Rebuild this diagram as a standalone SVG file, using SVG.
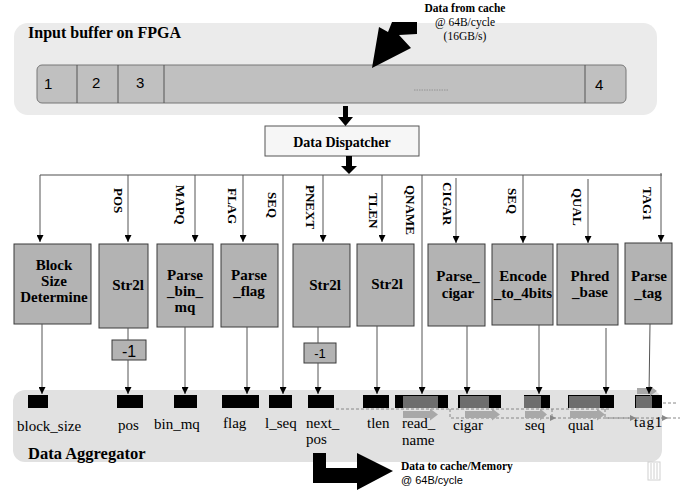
<svg xmlns="http://www.w3.org/2000/svg" width="689" height="491" viewBox="0 0 689 491">
<defs>
<marker id="ah" viewBox="0 0 8 8" refX="8" refY="4" markerWidth="7" markerHeight="7" markerUnits="userSpaceOnUse" orient="auto">
<path d="M0,0 L8,4 L0,8 Z" fill="#000"/>
</marker>
<marker id="ahg" viewBox="0 0 8 8" refX="8" refY="4" markerWidth="6" markerHeight="6" markerUnits="userSpaceOnUse" orient="auto">
<path d="M0,0 L8,4 L0,8 Z" fill="#888"/>
</marker>
</defs>
<style>
.panel{fill:#ebebeb;stroke:none}
.agg{fill:#e1e1e1;stroke:none}
.bar{fill:#c0c0c0;stroke:#777;stroke-width:1}
.box{fill:#b3b3b3;stroke:#3a3a3a;stroke-width:1}
.m1{fill:#b3b3b3;stroke:#3a3a3a;stroke-width:1}
.t{font-family:"Liberation Serif","Times New Roman",serif;fill:#000}
.b{font-weight:bold}
.bt{font-family:"Liberation Serif","Times New Roman",serif;font-weight:bold;font-size:15px;text-anchor:middle;fill:#000}
.vt{font-family:"Liberation Serif","Times New Roman",serif;font-weight:bold;font-size:13px;fill:#000}
.lab{font-family:"Liberation Serif","Times New Roman",serif;font-size:15px;fill:#000}
.a{font-family:"Liberation Sans",Arial,sans-serif;fill:#000}
.ln{stroke:#555;stroke-width:1;fill:none}
.lnd{stroke:#555;stroke-width:1;fill:none;marker-end:url(#ah)}
.reg{fill:#000}
.inner{fill:#6e6e6e}
.garr{fill:#a8a8a8}
.dash{stroke:#888;stroke-width:1;stroke-dasharray:3,2;fill:none}
</style>

<!-- Input buffer -->
<g id="input-buffer">
<rect class="panel" x="14" y="23" width="643" height="92" rx="14"/>
<text class="t b" x="28" y="38" font-size="16">Input buffer on FPGA</text>
<rect class="bar" x="37" y="65" width="589" height="38" rx="5"/>
<line x1="77" y1="65" x2="77" y2="103" stroke="#555"/>
<line x1="118" y1="65" x2="118" y2="103" stroke="#555"/>
<line x1="164" y1="65" x2="164" y2="103" stroke="#555"/>
<line x1="585" y1="65" x2="585" y2="103" stroke="#555"/>
<text class="a" x="44" y="89" font-size="15">1</text>
<text class="a" x="92" y="88" font-size="15">2</text>
<text class="a" x="136" y="88" font-size="15">3</text>
<text class="a" x="595" y="90" font-size="15">4</text>
<line x1="414" y1="90" x2="448" y2="90" stroke="#888" stroke-width="0.8" stroke-dasharray="1.5,1"/>
</g>

<g id="data-from-cache">
<polygon points="417,22 417,34 399,35 411,48 372,68 379,27 388,32 392,22" fill="#000"/>
<text class="t b" x="465" y="12" font-size="11.5" text-anchor="middle">Data from cache</text>
<text class="t" x="465" y="26" font-size="11.5" text-anchor="middle">@ 64B/cycle</text>
<text class="t" x="465" y="40" font-size="11.5" text-anchor="middle">(16GB/s)</text>
</g>

<!-- Dispatcher -->
<g id="data-dispatcher">
<rect x="265" y="126" width="154" height="30" fill="#f6f6f6" stroke="#555"/>
<text class="t b" x="342" y="147" font-size="14" text-anchor="middle">Data Dispatcher</text>
</g>

<!-- Nodes -->
<g id="block-size">
<rect class="box" x="14" y="244" width="77" height="80"/>
<text class="bt" x="54" y="270">Block</text>
<text class="bt" x="54" y="286">Size</text>
<text class="bt" x="54" y="302">Determine</text>
</g>
<g id="str2l-pos">
<rect class="box" x="99" y="244" width="49" height="84"/>
<text class="bt" x="128" y="290">Str2l</text>
</g>
<g id="minus1-pos">
<rect class="m1" x="112" y="340" width="34" height="20"/>
<text class="a" x="129" y="357" font-size="16" text-anchor="middle">-1</text>
</g>
<g id="parse-bin-mq">
<rect class="box" x="157" y="244" width="56" height="83"/>
<text class="bt" x="185" y="280">Parse</text>
<text class="bt" x="185" y="296">_bin_</text>
<text class="bt" x="185" y="312">mq</text>
</g>
<g id="parse-flag">
<rect class="box" x="221" y="244" width="57" height="83"/>
<text class="bt" x="249" y="280">Parse</text>
<text class="bt" x="249" y="296">_flag</text>
</g>
<g id="str2l-pnext">
<rect class="box" x="293" y="244" width="57" height="83"/>
<text class="bt" x="325" y="290">Str2l</text>
</g>
<g id="minus1-pnext">
<rect class="m1" x="304" y="343" width="32" height="20"/>
<text class="a" x="320" y="358" font-size="13" text-anchor="middle">-1</text>
</g>
<g id="str2l-tlen">
<rect class="box" x="357" y="244" width="57" height="82"/>
<text class="bt" x="387" y="289">Str2l</text>
</g>
<g id="parse-cigar">
<rect class="box" x="428" y="244" width="57" height="82"/>
<text class="bt" x="458" y="281">Parse_</text>
<text class="bt" x="458" y="298">cigar</text>
</g>
<g id="encode">
<rect class="box" x="492" y="244" width="61" height="81"/>
<text class="bt" x="523" y="281">Encode</text>
<text class="bt" x="523" y="298">_to_4bits</text>
</g>
<g id="phred">
<rect class="box" x="557" y="244" width="61" height="81"/>
<text class="bt" x="590" y="281">Phred</text>
<text class="bt" x="590" y="297">_base</text>
</g>
<g id="parse-tag">
<rect class="box" x="625" y="243" width="47" height="81"/>
<text class="bt" x="649" y="281">Parse</text>
<text class="bt" x="648" y="298">_tag</text>
</g>

<!-- Aggregator -->
<g id="data-aggregator">
<rect class="agg" x="13" y="390" width="649" height="72" rx="12"/>
<line class="dash" x1="336" y1="409" x2="610" y2="409"/>
<polyline class="dash" points="450,409 450,418 556,418" marker-end="url(#ahg)"/>
<polyline class="dash" points="552,409 552,418 636,418" marker-end="url(#ahg)"/>
<polyline class="dash" points="605,409 605,418 668,418" marker-end="url(#ahg)"/>
<line class="dash" x1="668" y1="418" x2="680" y2="418"/>
<line class="dash" x1="663" y1="403" x2="678" y2="403"/>
<rect class="reg" x="28" y="395" width="20" height="13"/>
<rect class="reg" x="117" y="395" width="26" height="13"/>
<rect class="reg" x="174" y="395" width="23" height="13"/>
<rect class="reg" x="222" y="395" width="37" height="13"/>
<rect class="reg" x="269" y="395" width="23" height="13"/>
<rect class="reg" x="308" y="395" width="26" height="13"/>
<rect class="reg" x="363" y="395" width="26" height="13"/>
<rect class="reg" x="395" y="395" width="53" height="13"/>
<rect class="inner" x="403" y="396" width="35" height="12"/>
<rect class="reg" x="458" y="395" width="43" height="13"/>
<rect class="inner" x="460" y="396" width="29" height="12"/>
<rect class="reg" x="524" y="395" width="26" height="13"/>
<rect class="inner" x="524" y="396" width="17" height="12"/>
<rect class="reg" x="568" y="395" width="46" height="13"/>
<rect class="inner" x="569" y="396" width="31" height="12"/>
<rect class="reg" x="635" y="395" width="27" height="13"/>
<rect class="inner" x="636" y="396" width="16" height="12"/>
<path class="garr" d="M403,411 L430,411 L430,408.5 L438,414.5 L430,420.5 L430,418 L403,418 Z"/>
<path class="garr" d="M465,411 L492,411 L492,408.5 L500,414.5 L492,420.5 L492,418 L465,418 Z"/>
<path class="garr" d="M525,411 L540,411 L540,408.5 L547,414.5 L540,420.5 L540,418 L525,418 Z"/>
<path class="garr" d="M570,411 L597,411 L597,408.5 L605,414.5 L597,420.5 L597,418 L570,418 Z"/>
<path class="garr" d="M637,388 L650,388 L650,386 L657,391 L650,396 L650,394 L637,394 Z"/>
<text class="lab" x="17" y="431">block_size</text>
<text class="lab" x="118" y="430">pos</text>
<text class="lab" x="154" y="429">bin_mq</text>
<text class="lab" x="223" y="428">flag</text>
<text class="lab" x="265" y="428">l_seq</text>
<text class="lab" x="306" y="428">next_</text>
<text class="lab" x="306" y="444">pos</text>
<text class="lab" x="367" y="428">tlen</text>
<text class="lab" x="402" y="428">read_</text>
<text class="lab" x="402" y="445">name</text>
<text class="lab" x="453" y="430">cigar</text>
<text class="lab" x="525" y="430">seq</text>
<text class="lab" x="568" y="430">qual</text>
<text class="lab" x="634" y="427" letter-spacing="0.8">tag1</text>
<text class="t b" x="28" y="459" font-size="16.5">Data Aggregator</text>
<g stroke="#d0d0d0" stroke-width="1">
<rect x="648" y="462" width="12" height="18" fill="none"/>
<line x1="651" y1="463" x2="651" y2="479"/>
<line x1="654" y1="463" x2="654" y2="479"/>
<line x1="657" y1="463" x2="657" y2="479"/>
</g>
</g>

<g id="data-to-cache">
<path d="M313,453 L326,453 L326,468 L357,468 L357,453 L393,471 L357,490 L357,483 L313,483 Z" fill="#000"/>
<text class="t b" x="401" y="470" font-size="11.5">Data to cache/Memory</text>
<text class="a" x="401" y="484" font-size="11">@ 64B/cycle</text>
</g>

<!-- Connectors -->
<g id="connectors">
<path d="M343,106 L348,106 L348,117 L353,117 L345.5,126 L338,117 L343,117 Z" fill="#000"/>
<path d="M346,156 L352,156 L352,166 L357,166 L349,174 L341,166 L346,166 Z" fill="#000"/>
<line x1="40" y1="175" x2="662" y2="175" stroke="#888" stroke-width="1.6"/>
<line class="lnd" x1="40" y1="175" x2="40" y2="242"/>
<line class="lnd" x1="128" y1="175" x2="128" y2="242"/>
<line class="lnd" x1="195" y1="175" x2="195" y2="242"/>
<line class="lnd" x1="243" y1="175" x2="243" y2="242"/>
<line class="lnd" x1="283" y1="175" x2="283" y2="394"/>
<line class="lnd" x1="323" y1="175" x2="323" y2="242"/>
<line class="lnd" x1="382" y1="175" x2="382" y2="242"/>
<line class="lnd" x1="422" y1="175" x2="422" y2="394"/>
<line class="lnd" x1="456" y1="178" x2="456" y2="243"/>
<line class="lnd" x1="523" y1="175" x2="523" y2="243"/>
<line class="lnd" x1="588" y1="179" x2="588" y2="243"/>
<line class="lnd" x1="661" y1="173" x2="661" y2="242"/>

<line class="lnd" x1="42" y1="324" x2="42" y2="394"/>
<line class="ln" x1="128" y1="328" x2="128" y2="340"/>
<line class="lnd" x1="128" y1="360" x2="128" y2="394"/>
<line class="lnd" x1="185" y1="327" x2="185" y2="394"/>
<line class="lnd" x1="247" y1="327" x2="247" y2="394"/>
<line class="ln" x1="318" y1="327" x2="318" y2="343"/>
<line class="lnd" x1="318" y1="363" x2="318" y2="394"/>
<line class="lnd" x1="377" y1="326" x2="377" y2="394"/>
<line class="lnd" x1="467" y1="326" x2="467" y2="394"/>
<line class="lnd" x1="539" y1="325" x2="539" y2="394"/>
<line class="lnd" x1="606" y1="328" x2="606" y2="394"/>
<line class="lnd" x1="650" y1="324" x2="649" y2="394"/>

<text class="vt" transform="translate(114,188) rotate(90)">POS</text>
<text class="vt" transform="translate(176,185) rotate(90)">MAPQ</text>
<text class="vt" transform="translate(228,188) rotate(90)">FLAG</text>
<text class="vt" transform="translate(268,192) rotate(90)">SEQ</text>
<text class="vt" transform="translate(306,185) rotate(90)">PNEXT</text>
<text class="vt" transform="translate(369,193) rotate(90)">TLEN</text>
<text class="vt" transform="translate(406,185) rotate(90)">QNAME</text>
<text class="vt" transform="translate(443,182) rotate(90)">CIGAR</text>
<text class="vt" transform="translate(508,188) rotate(90)">SEQ</text>
<text class="vt" transform="translate(573,188) rotate(90)">QUAL</text>
<text class="vt" transform="translate(643,187) rotate(90)">TAG1</text>
</g>
</svg>
